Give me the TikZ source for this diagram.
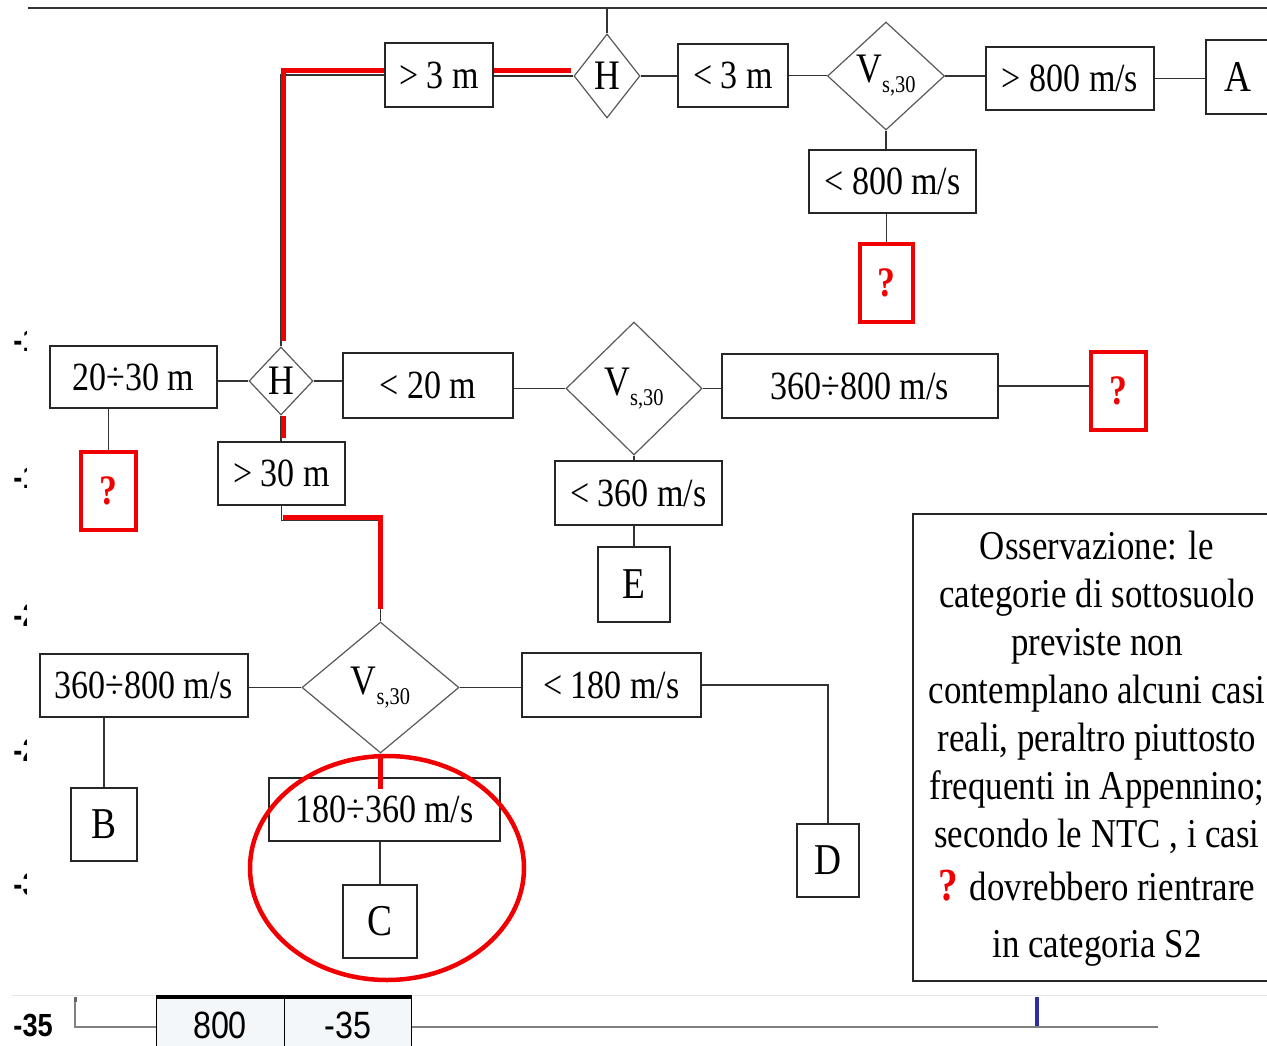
\documentclass[tikz,border=0pt]{standalone}
\usepackage{fontspec}
\setmainfont{Liberation Serif}[FakeStretch=0.85]
\newfontfamily\chartfont{Liberation Sans}[FakeStretch=0.85]
\usetikzlibrary{shapes.geometric}

\definecolor{redmark}{RGB}{240,0,0}
\definecolor{cellfill}{RGB}{243,247,250}
\definecolor{tickblue}{RGB}{45,45,160}

% V_{s,30} label
\newcommand{\vsthirty}{V\raisebox{-10pt}{\fontsize{24}{24}\selectfont s,30}}

\tikzset{
  box/.style={draw=black!85, line width=1.4pt, fill=white, inner sep=0pt,
              font=\fontsize{40}{44}\selectfont},
  cat/.style={box, font=\fontsize{44}{48}\selectfont},
  cond/.style={diamond, draw=black!65, line width=1.2pt, fill=white, inner sep=0pt,
               font=\fontsize{42}{46}\selectfont},
  qbox/.style={draw=redmark, line width=4.5pt, fill=white, inner sep=0pt, text=redmark,
               font=\bfseries\fontsize{42}{46}\selectfont},
  link/.style={draw=black!80, line width=1.4pt},
  redpath/.style={draw=redmark, line width=5pt, line join=miter},
  tick/.style={anchor=east, inner sep=0pt, font=\chartfont\bfseries\fontsize{32}{34}\selectfont},
}

\begin{document}
\begin{tikzpicture}[x=1pt, y=-1pt]
\useasboundingbox (0,0) rectangle (1267,1046);
\clip (0,0) rectangle (1267,1046);
\fill[white] (0,0) rectangle (1267,1046);

% axis labels of the chart underneath
\node[tick] (t10) at (53,340) {-10};
\node[tick] (t15) at (53,478) {-15};
\node[tick] (t20) at (53,615) {-20};
\node[tick] (t25) at (53,750) {-25};
\node[tick] (t30) at (53,885) {-30};
\node[tick] (t35) at (53,1025) {-35};

% flowchart sheet
\fill[white] (27,-2) rectangle (1275,993);
\draw[black!10, line width=1pt] (12,995) -- (1267,995);

\coordinate (tl) at (28,8);
\coordinate (tr) at (1275,8);
\draw[link] (tl) -- (tr);

% ---- top row
\node[cond, minimum width=66pt, minimum height=84pt] (h1) at (607,76) {H};
\node[box, minimum width=108pt, minimum height=64pt] (gt3) at (439,75) {> 3 m};
\node[box, minimum width=110pt, minimum height=63pt] (lt3) at (733,75.5) {< 3 m};
\node[cond, minimum width=117pt, minimum height=108pt] (v1) at (886,76) {\vsthirty};
\node[box, minimum width=168pt, minimum height=63pt] (gt800) at (1070,78.5) {> 800 m/s};
\node[cat, minimum width=64pt, minimum height=74pt] (A) at (1238,77) {A};
\node[box, minimum width=167pt, minimum height=63pt] (lt800) at (892.5,181.5) {< 800 m/s};
\node[qbox, minimum width=53pt, minimum height=78pt] (q1) at (886.5,283) {?};

% ---- middle row
\node[box, minimum width=167pt, minimum height=62pt] (r2030) at (133.5,377) {20÷30 m};
\node[cond, minimum width=64pt, minimum height=68pt] (h2) at (281,381) {H};
\node[box, minimum width=170pt, minimum height=65pt] (lt20) at (428,385.5) {< 20 m};
\node[cond, minimum width=136pt, minimum height=133pt] (v2) at (634,388.5) {\vsthirty};
\node[box, minimum width=276pt, minimum height=64pt] (r360800a) at (860,386) {360÷800 m/s};
\node[qbox, minimum width=55pt, minimum height=78pt] (q2) at (1118.5,391) {?};
\node[qbox, minimum width=55pt, minimum height=78pt] (q3) at (108.5,491) {?};
\node[box, minimum width=127pt, minimum height=63pt] (gt30) at (281.5,473.5) {> 30 m};
\node[box, minimum width=167pt, minimum height=64pt] (lt360) at (638.5,493) {< 360 m/s};
\node[cat, minimum width=72pt, minimum height=75pt] (E) at (634,584.5) {E};

% ---- bottom row
\node[cond, minimum width=157pt, minimum height=131pt] (v3) at (380.5,687.5) {\vsthirty};
\node[box, minimum width=208pt, minimum height=63pt] (r360800b) at (144,685.5) {360÷800 m/s};
\node[box, minimum width=179pt, minimum height=64pt] (lt180) at (611.5,685) {< 180 m/s};
\node[box, minimum width=231pt, minimum height=63pt] (r180360) at (384.5,809.5) {180÷360 m/s};
\node[cat, minimum width=66pt, minimum height=73pt] (B) at (104,824.5) {B};
\node[cat, minimum width=74pt, minimum height=73pt] (C) at (380,921.5) {C};
\node[cat, minimum width=62pt, minimum height=73pt] (D) at (828,860.5) {D};

% ---- connectors
\draw[link] (h1.north) -- (h1.north |- tl);
\draw[link] (h1.east) -- (h1.east -| lt3.west);
\draw[link] (lt3.east) -- (lt3.east -| v1.west);
\draw[link] (v1.east) -- (v1.east -| gt800.west);
\draw[link] (gt800.east) -- (gt800.east -| A.west);
\draw[link] (v1.south) -- (v1.south |- lt800.north);
\draw[link] (q1.north |- lt800.south) -- (q1.north);
\draw[link] (h1.west) -- (h1.west -| gt3.east);
\draw[link] (gt3.west) -| (h2.north);

\draw[link] (h2.west -| r2030.east) -- (h2.west);
\draw[link] (h2.east) -- (h2.east -| lt20.west);
\draw[link] (v2.west -| lt20.east) -- (v2.west);
\draw[link] (v2.east) -- (v2.east -| r360800a.west);
\draw[link] (r360800a.east) -- (r360800a.east -| q2.west);
\draw[link] (q3.north |- r2030.south) -- (q3.north);
\draw[link] (h2.south) -- (h2.south |- gt30.north);
\draw[link] (v2.south) -- (v2.south |- lt360.north);
\draw[link] (E.north |- lt360.south) -- (E.north);
\draw[link] (gt30.south) -- ++(0,15) -| (v3.north);

\draw[link] (v3.west -| r360800b.east) -- (v3.west);
\draw[link] (v3.east) -- (v3.east -| lt180.west);
\draw[link] (lt180.east) -| (D.north);
\draw[link] (B.north |- r360800b.south) -- (B.north);
\draw[link] (v3.south) -- (v3.south |- r180360.north);
\draw[link] (C.north |- r180360.south) -- (C.north);

% ---- highlighted decision path
\draw[redpath] ([xshift=2pt,yshift=5pt]h2.north) |- ([yshift=4pt]gt3.west);
\draw[redpath] ([yshift=4pt]gt3.east) -- ([yshift=4pt,xshift=-2pt]gt3.east -| h1.west);
\draw[redpath] ([xshift=2pt]h2.south) -- ++(0,22);
\draw[redpath] ([xshift=1.5pt,yshift=-12pt]gt30.south) -| ([yshift=12pt]v3.north);
\draw[redpath] (v3.south) -- ++(0,35);
\draw[redmark, line width=4.5pt] (387,868) ellipse [x radius=137, y radius=112];

% ---- note
\node[draw=black!85, line width=1.5pt, fill=white, minimum width=368pt, minimum height=467pt,
      inner sep=0pt] (note) at (1097,747.5) {};
\node[align=center, inner sep=0pt, font=\fontsize{41}{48}\selectfont] (notetext) at (1097,749)
  {Osservazione: le\\ categorie di sottosuolo\\ previste non\\ contemplano alcuni casi\\
   reali, peraltro piuttosto\\ frequenti in Appennino;\\ secondo le NTC , i casi\\[5pt]
   {\color{redmark}\bfseries\fontsize{46}{48}\selectfont ?} dovrebbero rientrare\\[9pt] in categoria S2};

% ---- chart strip at the bottom
\draw[black!50, line width=2pt] (75,999) -- (75,1027) -- (1158,1027);
\fill[black!60] (74,997) rectangle (77,1002);
\node[draw=black, line width=1.4pt, fill=cellfill, minimum width=128pt, minimum height=58pt,
      anchor=north west, inner sep=0pt] (c800) at (156,997) {};
\node[draw=black, line width=1.4pt, fill=cellfill, minimum width=127pt, minimum height=58pt,
      anchor=north west, inner sep=0pt] (cm35) at (284,997) {};
\node[font=\chartfont\fontsize{38}{40}\selectfont, inner sep=0pt] (l800) at (220,1025) {800};
\node[font=\chartfont\fontsize{38}{40}\selectfont, inner sep=0pt] (lm35) at (348,1025) {-35};
\draw[black, line width=3.5pt] (c800.north west) -- (cm35.north east);
\draw[tickblue, line width=4pt] (1037,997) -- (1037,1026);
\end{tikzpicture}
\end{document}
